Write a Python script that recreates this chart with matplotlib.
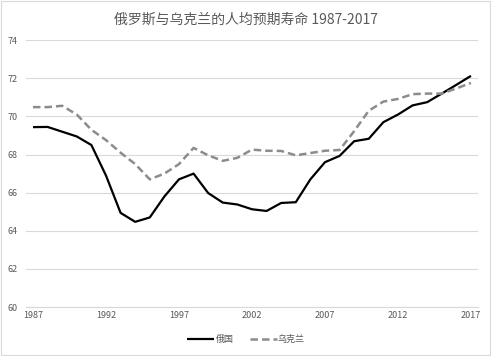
import matplotlib
matplotlib.use("Agg")
import matplotlib.pyplot as plt
from matplotlib.patches import Rectangle

plt.rcParams['font.family'] = ['Noto Sans CJK SC', 'DejaVu Sans']

years = list(range(1987, 2018))
russia = [69.44, 69.45, 69.2, 68.95, 68.5, 66.9, 64.94, 64.47, 64.7, 65.8,
          66.7, 67.0, 65.98, 65.48, 65.38, 65.13, 65.04, 65.46, 65.5, 66.7,
          67.6, 67.93, 68.7, 68.83, 69.7, 70.1, 70.58, 70.75, 71.2, 71.66, 72.13]
ukraine = [70.49, 70.49, 70.56, 70.1, 69.3, 68.76, 68.1, 67.5, 66.7, 67.0,
           67.5, 68.35, 67.96, 67.67, 67.83, 68.26, 68.2, 68.19, 67.96, 68.08,
           68.2, 68.24, 69.23, 70.3, 70.78, 70.92, 71.17, 71.2, 71.2, 71.47, 71.76]
xticks = [1987, 1992, 1997, 2002, 2007, 2012, 2017]
yticks = [60, 62, 64, 66, 68, 70, 72, 74]
title = "俄罗斯与乌克兰的人均预期寿命 1987-2017"
labels = ["俄国", "乌克兰"]

fig = plt.figure(figsize=(4.92, 3.56), dpi=100)
ax = fig.add_axes([0.0528, 0.1376, 0.9187, 0.7494])

ax.plot(years, russia, color='black', lw=1.6, label=labels[0], solid_capstyle='butt')
ax.plot(years, ukraine, color='#8c8c8c', lw=1.8, ls=(0, (3, 1.6)), label=labels[1])

ax.set_xlim(1987 - 0.48, 2017 + 0.48)
ax.set_ylim(60, 74)
ax.set_xticks(xticks)
ax.set_yticks(yticks)
ax.tick_params(axis='both', length=0, labelsize=6.5, colors='#595959', pad=3)
ax.tick_params(axis='y', pad=6)
ax.grid(axis='y', color='#d9d9d9', lw=0.8)
ax.set_axisbelow(True)
for s in ['top', 'right', 'left']:
    ax.spines[s].set_visible(False)
ax.spines['bottom'].set_color('#d9d9d9')
ax.spines['bottom'].set_linewidth(0.8)

fig.text(0.5, 0.943, title, ha='center', va='center', fontsize=10, color='#595959')

leg = fig.legend(loc='center', bbox_to_anchor=(0.5, 0.047), ncol=2, frameon=False,
                 fontsize=6.5, handlelength=3.0, columnspacing=1.8, handletextpad=0.1)
for t in leg.get_texts():
    t.set_color('#595959')

fig.patches.append(Rectangle((0.002, 0.004), 0.994, 0.992, transform=fig.transFigure,
                             fill=False, edgecolor='#d9d9d9', lw=0.8))

fig.savefig('out.png', dpi=100)
